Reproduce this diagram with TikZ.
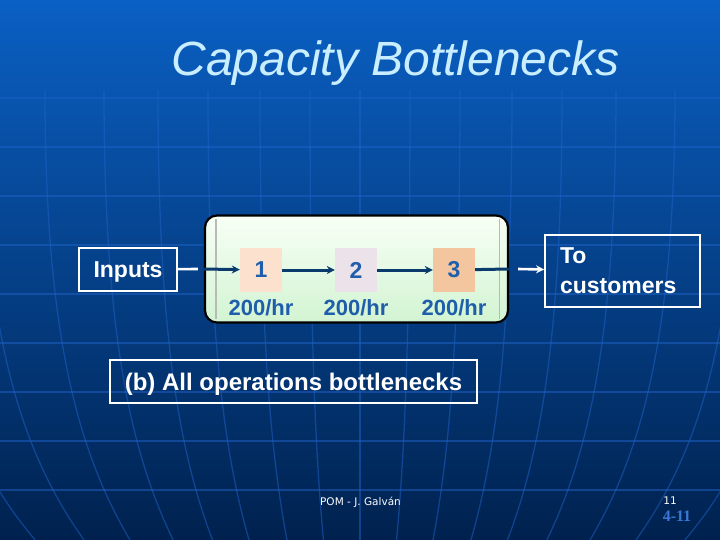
\documentclass[tikz,border=0pt]{standalone}
\usepackage{fontspec}
\setmainfont{Liberation Sans}
\newfontfamily\footfont{DejaVu Sans}
\newfontfamily\codefont{Liberation Serif}
\usetikzlibrary{arrows.meta}

\definecolor{slidetop}{HTML}{0A60C4}
\definecolor{slidemid}{HTML}{08479C}
\definecolor{slidebot}{HTML}{00214E}
\definecolor{gridline}{HTML}{1F62C8}
\definecolor{titlecyan}{HTML}{C8EEFF}
\definecolor{opblue}{HTML}{1E5EAA}
\definecolor{flownavy}{HTML}{0B3B6C}
\definecolor{opone}{HTML}{FCE2CE}
\definecolor{optwo}{HTML}{EBE2EA}
\definecolor{opthree}{HTML}{F4C6A0}
\definecolor{pipetop}{HTML}{F8FFF6}
\definecolor{pipebot}{HTML}{D2F4D2}
\definecolor{pagenum}{HTML}{3A78D8}

\begin{document}
\begin{tikzpicture}[x=1pt, y=-1pt,
    outbox/.style={draw=white, line width=1.8pt, text=white, inner sep=0pt, font=\fontsize{23}{30}\selectfont\bfseries},
    opbox/.style={minimum width=42pt, minimum height=44pt, inner sep=0pt, text=opblue, font=\fontsize{23}{26}\selectfont\bfseries},
    rate/.style={anchor=base, inner sep=0pt, text=opblue, font=\fontsize{22}{26}\selectfont\bfseries},
    flow/.style={draw=flownavy, line width=3pt},
    outflow/.style={draw=white, line width=2.6pt},
    grid/.style={draw=gridline, opacity=0.5, line width=1.3pt},
    >={Stealth[length=8pt,width=8pt]}]

    \useasboundingbox (0,0) rectangle (720,540);
    \shade[top color=slidetop, middle color=slidemid, bottom color=slidebot] (0,0) rectangle (720,540);
    \begin{scope}
        \clip (0,0) rectangle (720,540);
        \foreach \y in {98,147,...,490}
            \draw[grid] (0,\y) -- (720,\y);
        \foreach \d in {-445,-378,-315,-256,-202,-152,-100,-50,0,50,100,152,202,256,315,378,445}
            \draw[grid] (360+\d,90) .. controls (360+\d,330) and (360+0.9*\d,450) .. (360+0.73*\d,540);
    \end{scope}

    \node[anchor=base, text=titlecyan, font=\fontsize{48}{56}\selectfont\itshape] (title) at (395.5,76) {Capacity Bottlenecks};

    \node[outbox, minimum width=98pt, minimum height=43pt, text depth=0pt] (inputs) at (128,269.5) {Inputs};
    \node[draw=black, line width=2.2pt, rounded corners=12pt, top color=pipetop, bottom color=pipebot,
          minimum width=303pt, minimum height=107pt] (bottle) at (356.5,269) {};
    \draw[gray!55, line width=1.2pt] ([xshift=12pt,yshift=-5pt]bottle.north west) -- ([xshift=12pt,yshift=5pt]bottle.south west);
    \draw[gray!55, line width=1.2pt] ([xshift=-10pt,yshift=-5pt]bottle.north east) -- ([xshift=-10pt,yshift=5pt]bottle.south east);

    \node[opbox, fill=opone]   (op1) at (261,270) {1};
    \node[opbox, fill=optwo]   (op2) at (356,270) {2};
    \node[opbox, fill=opthree] (op3) at (454,270) {3};
    \node[rate] (rate1) at (261,315) {200/hr};
    \node[rate] (rate2) at (356,315) {200/hr};
    \node[rate] (rate3) at (454,315) {200/hr};

    \node[outbox, align=left, text width=125pt, inner xsep=15pt, minimum height=72pt] (customers) at (622.5,271) {To\\customers};
    \node[outbox, minimum width=367pt, minimum height=43pt, text depth=0pt, font=\fontsize{24}{28}\selectfont\bfseries] (caption) at (293.5,381.5) {(b) All operations bottlenecks};

    \coordinate (pipein) at ([xshift=-6pt]bottle.west);
    \coordinate (pipeout) at ([xshift=9pt]bottle.east);

    \draw[outflow] (inputs) -- (pipein);
    \draw[flow, ->] (bottle.west) -- (op1);
    \draw[flow, ->] (op1) -- (op2);
    \draw[flow, ->] (op2) -- (op3);
    \draw[flow] (op3) -- (bottle.east);
    \draw[outflow, ->] (pipeout) -- (customers);

    \node[text=white, font=\footfont\fontsize{10.5}{12}\selectfont] (credit) at (360.5,502) {POM - J. Galván};
    \node[text=white, font=\footfont\fontsize{10.5}{12}\selectfont] (slideno) at (670,501) {11};
    \node[text=pagenum, font=\codefont\bfseries\fontsize{16}{18}\selectfont] (pagecode) at (677,516) {4-11};
\end{tikzpicture}
\end{document}
